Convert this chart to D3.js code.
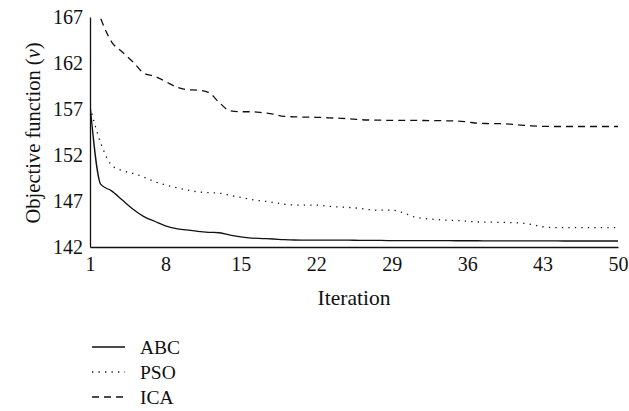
<!DOCTYPE html>
<html>
<head>
<meta charset="utf-8">
<script src="https://cdn.jsdelivr.net/npm/d3@7"></script>
<style>
  body { margin: 0; background: #fff; }
  text { font-family: "Liberation Serif", "DejaVu Serif", serif; fill: #111; }
</style>
</head>
<body>
<div id="chartContainer"></div>
<script>
const iterations = d3.range(1, 51);

const abc = [
  157.5, 148.8, 148.1, 147.1, 146.1, 145.3, 144.8, 144.3, 144.0, 143.85,
  143.7, 143.6, 143.55, 143.3, 143.1, 142.97, 142.92, 142.87, 142.8, 142.76,
  142.75, 142.75, 142.75, 142.75, 142.74, 142.73, 142.72, 142.71, 142.7, 142.7,
  142.7, 142.7, 142.69, 142.69, 142.68, 142.68, 142.68, 142.67, 142.67, 142.67,
  142.66, 142.66, 142.66, 142.66, 142.65, 142.65, 142.65, 142.65, 142.65, 142.65
];

const pso = [
  157.2, 153.3, 150.9, 150.3, 150.0, 149.6, 149.1, 148.75, 148.45, 148.2,
  148.0, 147.9, 147.85, 147.6, 147.4, 147.15, 147.0, 146.85, 146.65, 146.57,
  146.55, 146.55, 146.45, 146.35, 146.3, 146.2, 146.05, 146.0, 146.0, 145.75,
  145.3, 145.1, 145.0, 144.92, 144.88, 144.8, 144.72, 144.7, 144.68, 144.65,
  144.6, 144.45, 144.2, 144.12, 144.1, 144.1, 144.1, 144.1, 144.1, 144.1
];

// first iteration of ICA lies above the plotted range
const ica = [
  null, 166.8, 164.3, 163.2, 162.1, 160.9, 160.55, 160.0, 159.4, 159.1,
  159.05, 158.8, 157.7, 156.8, 156.7, 156.7, 156.6, 156.45, 156.2, 156.15,
  156.12, 156.1, 156.05, 156.0, 155.95, 155.85, 155.8, 155.78, 155.77, 155.77,
  155.76, 155.75, 155.74, 155.72, 155.7, 155.6, 155.45, 155.42, 155.4, 155.35,
  155.25, 155.17, 155.12, 155.1, 155.1, 155.1, 155.1, 155.1, 155.1, 155.1
];

const xTicks = [1, 8, 15, 22, 29, 36, 43, 50];
const yTicks = [142, 147, 152, 157, 162, 167];
const seriesNames = ["ABC", "PSO", "ICA"];

const width = 629;
const height = 411;
const margin = { top: 17, right: 11, bottom: 164, left: 90 };

const dashes = { ABC: null, PSO: "1.3,5.2", ICA: "7,5" };

const x = d3.scaleLinear().domain([1, 50]).range([margin.left, width - margin.right]);
const y = d3.scaleLinear().domain([142, 167]).range([height - margin.bottom, margin.top]);

const svg = d3
  .select("#chartContainer")
  .append("svg")
  .attr("width", width)
  .attr("height", height);

svg
  .append("clipPath")
  .attr("id", "plotClip")
  .append("rect")
  .attr("x", margin.left)
  .attr("y", margin.top)
  .attr("width", width - margin.left - margin.right)
  .attr("height", height - margin.top - margin.bottom);

const line = d3
  .line()
  .defined((d) => d != null)
  .x((d, i) => x(iterations[i]))
  .y((d) => y(d))
  .curve(d3.curveMonotoneX);

const seriesData = [abc, pso, ica];

svg
  .append("g")
  .attr("clip-path", "url(#plotClip)")
  .selectAll("path")
  .data(seriesData)
  .enter()
  .append("path")
  .attr("fill", "none")
  .attr("stroke", "#111")
  .attr("stroke-width", 1.3)
  .attr("stroke-dasharray", (d, i) => dashes[seriesNames[i]])
  .attr("d", line);

// axes
const xAxis = svg
  .append("g")
  .attr("transform", `translate(0, ${y(142)})`)
  .call(d3.axisBottom(x).tickValues(xTicks).tickSize(0).tickPadding(10));

const yAxis = svg
  .append("g")
  .attr("transform", `translate(${x(1)}, 0)`)
  .call(d3.axisLeft(y).tickValues(yTicks).tickSize(0).tickPadding(7));

[xAxis, yAxis].forEach((g) => {
  g.select(".domain").attr("stroke", "#111").attr("stroke-width", 1.3);
  g.selectAll("text")
    .attr("font-family", "Liberation Serif, serif")
    .attr("font-size", 20)
    .attr("fill", "#111");
});

svg
  .append("text")
  .attr("x", (x(1) + x(50)) / 2)
  .attr("y", 305)
  .attr("text-anchor", "middle")
  .attr("font-size", 21.5)
  .text("Iteration");

const yLabel = svg
  .append("text")
  .attr("transform", `translate(40, ${y(154.4)}) rotate(-90)`)
  .attr("text-anchor", "middle")
  .attr("font-size", 20.5);
yLabel.append("tspan").text("Objective function (");
yLabel.append("tspan").attr("font-style", "italic").text("v");
yLabel.append("tspan").text(")");

// legend
const legend = svg
  .selectAll(".legend")
  .data(seriesNames)
  .enter()
  .append("g")
  .attr("class", "legend")
  .attr("transform", (d, i) => `translate(92, ${347 + i * 25})`);

legend
  .append("line")
  .attr("x1", 0)
  .attr("x2", 33)
  .attr("stroke", "#111")
  .attr("stroke-width", 1.3)
  .attr("stroke-dasharray", (d) => dashes[d]);

legend
  .append("text")
  .attr("x", 48)
  .attr("dy", "0.35em")
  .attr("font-size", 19.5)
  .text((d) => d);
</script>
</body>
</html>
